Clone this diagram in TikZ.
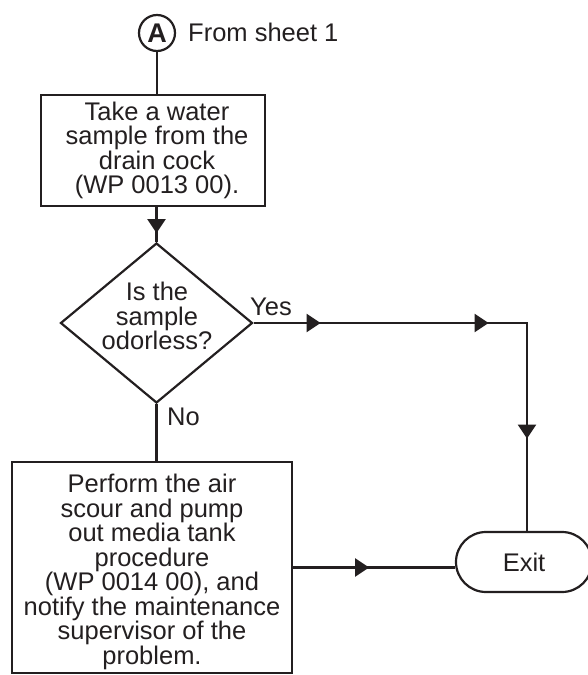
\documentclass[tikz,border=0pt]{standalone}
\usepackage{fontspec}
\setmainfont{Liberation Sans}
\usetikzlibrary{shapes.geometric,shapes.misc,decorations.markings,arrows.meta}
\definecolor{ink}{HTML}{231F20}
\tikzset{
  lbl/.style={font=\fontsize{25.5pt}{24.5pt}\selectfont, text=ink, inner sep=0pt},
  txt/.style={lbl, align=center},
  boxshape/.style={draw=ink, line width=2.2pt, rectangle, inner sep=0pt},
  decshape/.style={draw=ink, line width=2.2pt, diamond, inner sep=0pt},
  termshape/.style={draw=ink, line width=2.2pt, rounded rectangle, inner sep=0pt, lbl},
  conn/.style={draw=ink, line width=2.2pt},
  tipA/.style={postaction={decorate,decoration={markings,
     mark=at position #1 with {\arrow{Triangle[length=14pt,width=18pt]}}}}},
}
\begin{document}
\begin{tikzpicture}[x=1pt,y=-1pt]
\useasboundingbox (0,0) rectangle (587,675);
% connector A
\node[draw=ink, line width=2.2pt, circle, minimum size=36pt, inner sep=0pt,
      font=\fontsize{27pt}{27pt}\selectfont\bfseries, text=ink] (cA) at (157,33) {A};
\node[lbl, anchor=base west] (from) at (188,41) {From sheet 1};
% box 1
\node[boxshape, minimum width=224pt, minimum height=111pt] (b1) at (153,150.5) {};
\node[txt] (t1) at (157,150.5) {Take a water\\sample from the\\drain cock\\(WP 0013 00).};
% decision
\node[decshape, minimum width=192pt, minimum height=160pt] (dia) at (156.5,323) {};
\node[txt] (t2) at (157,316) {Is the\\sample\\odorless?};
% box 2
\node[boxshape, minimum width=280pt, minimum height=211pt] (b2) at (152,567.5) {};
\node[txt] (t3) at (152,572) {Perform the air\\scour and pump\\out media tank\\procedure\\(WP 0014 00), and\\notify the maintenance\\supervisor of the\\problem.};
% exit
\node[termshape, minimum width=136pt, minimum height=60pt] (ex) at (524,562) {Exit};
\coordinate (yc) at (527,323);
% labels
\node[lbl, anchor=base west] (yes) at (250,315) {Yes};
\node[lbl, anchor=base west] (no) at (167,425) {No};
% connectors
\draw[conn] (cA.south) -- (cA.south |- b1.north);
\draw[conn, tipA=26pt] (dia.north |- b1.south) -- (dia.north);
\draw[conn, postaction={decorate,decoration={markings,
   mark=at position 67pt with {\arrow{Triangle[length=14pt,width=18pt]}},
   mark=at position 235pt with {\arrow{Triangle[length=14pt,width=18pt]}},
   mark=at position 389pt with {\arrow{Triangle[length=14pt,width=18pt]}}}}]
   (dia.east) -- (yc) -- (yc |- ex.north);
\draw[conn] (dia.south) -- (dia.south |- b2.north);
\draw[conn, tipA=76pt] (b2.east) -- (b2.east -| ex.west);
\end{tikzpicture}
\end{document}
